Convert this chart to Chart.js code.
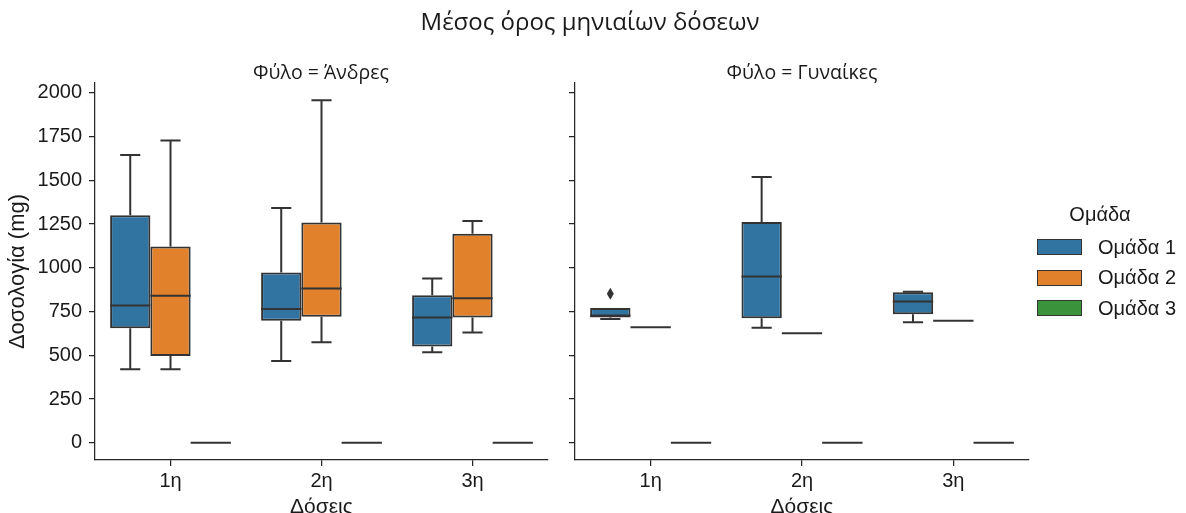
<!DOCTYPE html>
<html>
<head>
<meta charset="utf-8">
<script src="https://cdn.jsdelivr.net/npm/chart.js@4.4.0/dist/chart.umd.min.js"></script>
<style>
    html, body { margin: 0; padding: 0; background: #fff; overflow: hidden; }
    #page { position: relative; width: 1186px; height: 513px; overflow: hidden; }
    canvas { position: absolute; top: 0; }
    .txt { position: absolute; transform: translate(-50%, -50%); white-space: nowrap; line-height: 1; color: #1a1a1a; }
    .title { font-family: 'Open Sans', sans-serif; }
    .legend { position: absolute; left: 1037px; top: 203px; font-family: 'Liberation Sans', Arial, sans-serif; font-size: 20px; color: #1a1a1a; }
    .legend .head { text-align: center; width: 126px; margin-bottom: 6px; }
    .legend .row { display: flex; align-items: center; height: 30.5px; }
    .legend .patch { width: 43px; height: 14px; border: 1.5px solid #333; margin-right: 16px; }
</style>
</head>
<body>
<div id="page">
    <canvas id="menChart" width="560" height="520" style="left:0;width:560px;height:520px"></canvas>
    <canvas id="womenChart" width="626" height="520" style="left:560px;width:626px;height:520px"></canvas>
    <div class="txt title" style="left:590px;top:21px;font-size:24px">Μέσος όρος μηνιαίων δόσεων</div>
    <div class="txt title" style="left:321px;top:72px;font-size:19.5px">Φύλο = Άνδρες</div>
    <div class="txt title" style="left:802px;top:72px;font-size:19.5px">Φύλο = Γυναίκες</div>
    <div class="legend" id="legend"></div>
</div>
<script>
// doses on the x axis
const doses = ['1η', '2η', '3η'];
const groups = ['Ομάδα 1', 'Ομάδα 2', 'Ομάδα 3'];
const groupColors = ['#3274a1', '#e1812c', '#3a923a'];
const yTicks = [0, 250, 500, 750, 1000, 1250, 1500, 1750, 2000];

// each entry: [lower whisker, q1, median, q3, upper whisker], one per dose
const menGroup1 = [[420, 655, 785, 1300, 1645], [468, 697, 765, 973, 1342], [517, 550, 716, 844, 939]];
const menGroup2 = [[420, 496, 840, 1122, 1727], [575, 721, 882, 1259, 1958], [630, 716, 826, 1195, 1267]];
const menGroup3 = [[0, 0, 0, 0, 0], [0, 0, 0, 0, 0], [0, 0, 0, 0, 0]];

const womenGroup1 = [[707, 716, 727, 770, 770], [658, 712, 950, 1262, 1519], [689, 735, 807, 861, 864]];
const womenGroup2 = [[660, 660, 660, 660, 660], [626, 626, 626, 626, 626], [698, 698, 698, 698, 698]];
const womenGroup3 = [[0, 0, 0, 0, 0], [0, 0, 0, 0, 0], [0, 0, 0, 0, 0]];

// points beyond the whiskers, per dose
const womenGroup1Outliers = [[852], [], []];

const lineColor = '#333333';
const axisColor = '#262626';
const tickFont = { family: "'Liberation Sans', Arial, sans-serif", size: 20 };
const labelFont = { family: "'Liberation Sans', Arial, sans-serif", size: 21 };

const boxWhiskerPlugin = {
    id: 'boxWhisker',
    afterDatasetsDraw(chart) {
        const ctx = chart.ctx;
        const y = chart.scales.y;
        ctx.save();
        ctx.strokeStyle = lineColor;
        ctx.fillStyle = lineColor;
        ctx.lineWidth = 2;

        chart.data.datasets.forEach((ds, di) => {
            const meta = chart.getDatasetMeta(di);
            meta.data.forEach((bar, i) => {
                const [lo, q1, med, q3, hi] = ds.stats[i];
                const half = bar.width / 2;
                const cap = bar.width / 4;

                ctx.beginPath();
                if (lo < q1) {
                    ctx.moveTo(bar.x, y.getPixelForValue(q1));
                    ctx.lineTo(bar.x, y.getPixelForValue(lo));
                    ctx.moveTo(bar.x - cap, y.getPixelForValue(lo));
                    ctx.lineTo(bar.x + cap, y.getPixelForValue(lo));
                }
                if (hi > q3) {
                    ctx.moveTo(bar.x, y.getPixelForValue(q3));
                    ctx.lineTo(bar.x, y.getPixelForValue(hi));
                    ctx.moveTo(bar.x - cap, y.getPixelForValue(hi));
                    ctx.lineTo(bar.x + cap, y.getPixelForValue(hi));
                }
                ctx.moveTo(bar.x - half, y.getPixelForValue(med));
                ctx.lineTo(bar.x + half, y.getPixelForValue(med));
                ctx.stroke();

                const points = (ds.outliers && ds.outliers[i]) || [];
                points.forEach(v => {
                    const py = y.getPixelForValue(v);
                    ctx.beginPath();
                    ctx.moveTo(bar.x, py - 6);
                    ctx.lineTo(bar.x + 3.5, py);
                    ctx.lineTo(bar.x, py + 6);
                    ctx.lineTo(bar.x - 3.5, py);
                    ctx.closePath();
                    ctx.fill();
                });
            });
        });
        ctx.restore();
    }
};

function makeDatasets(groupStats, groupOutliers) {
    return groupStats.map((stats, g) => ({
        label: groups[g],
        data: stats.map(s => [s[1], s[3]]),
        stats: stats,
        outliers: groupOutliers[g],
        backgroundColor: groupColors[g],
        borderColor: lineColor,
        borderWidth: 2,
        borderSkipped: false,
        barPercentage: 1,
        categoryPercentage: 0.8
    }));
}

function makeChart(canvasId, datasets, opts) {
    const ctx = document.getElementById(canvasId).getContext('2d');
    return new Chart(ctx, {
        type: 'bar',
        data: { labels: doses, datasets: datasets },
        plugins: [boxWhiskerPlugin],
        options: {
            responsive: false,
            animation: false,
            layout: { padding: { top: 83, right: opts.rightPad, bottom: 0, left: 0 } },
            plugins: { legend: { display: false }, tooltip: { enabled: false } },
            scales: {
                x: {
                    offset: true,
                    afterFit: (scale) => { scale.height = 60; },
                    grid: { offset: false, drawOnChartArea: false, tickLength: 6, color: axisColor, lineWidth: 1.25 },
                    border: { color: axisColor, width: 1.25 },
                    ticks: { color: '#1a1a1a', font: tickFont, padding: 3 },
                    title: { display: true, text: 'Δόσεις', color: '#1a1a1a', font: labelFont, padding: { top: 0, bottom: 0 } }
                },
                y: {
                    min: -98,
                    max: 2056,
                    afterBuildTicks: (scale) => { scale.ticks = yTicks.map(v => ({ value: v })); },
                    afterFit: (scale) => { scale.width = opts.yWidth; },
                    grid: { drawOnChartArea: false, tickLength: 6, color: axisColor, lineWidth: 1.25 },
                    border: { color: axisColor, width: 1.25 },
                    ticks: { display: opts.showYLabels, color: '#1a1a1a', font: tickFont, padding: 7,
                        callback: (v) => String(v) },
                    title: { display: opts.showYLabels, text: 'Δοσολογία (mg)', color: '#1a1a1a',
                        font: { family: labelFont.family, size: 22 }, padding: { top: 5, bottom: 0 } }
                }
            }
        }
    });
}

makeChart('menChart',
    makeDatasets([menGroup1, menGroup2, menGroup3], [[], [], []]),
    { rightPad: 12, yWidth: 95, showYLabels: true });

makeChart('womenChart',
    makeDatasets([womenGroup1, womenGroup2, womenGroup3], [womenGroup1Outliers, [], []]),
    { rightPad: 157, yWidth: 15, showYLabels: false });

// legend
const legend = document.getElementById('legend');
legend.innerHTML = '<div class="head">Ομάδα</div>' + groups.map((g, i) =>
    `<div class="row"><span class="patch" style="background:${groupColors[i]}"></span>${g}</div>`
).join('');
</script>
</body>
</html>
